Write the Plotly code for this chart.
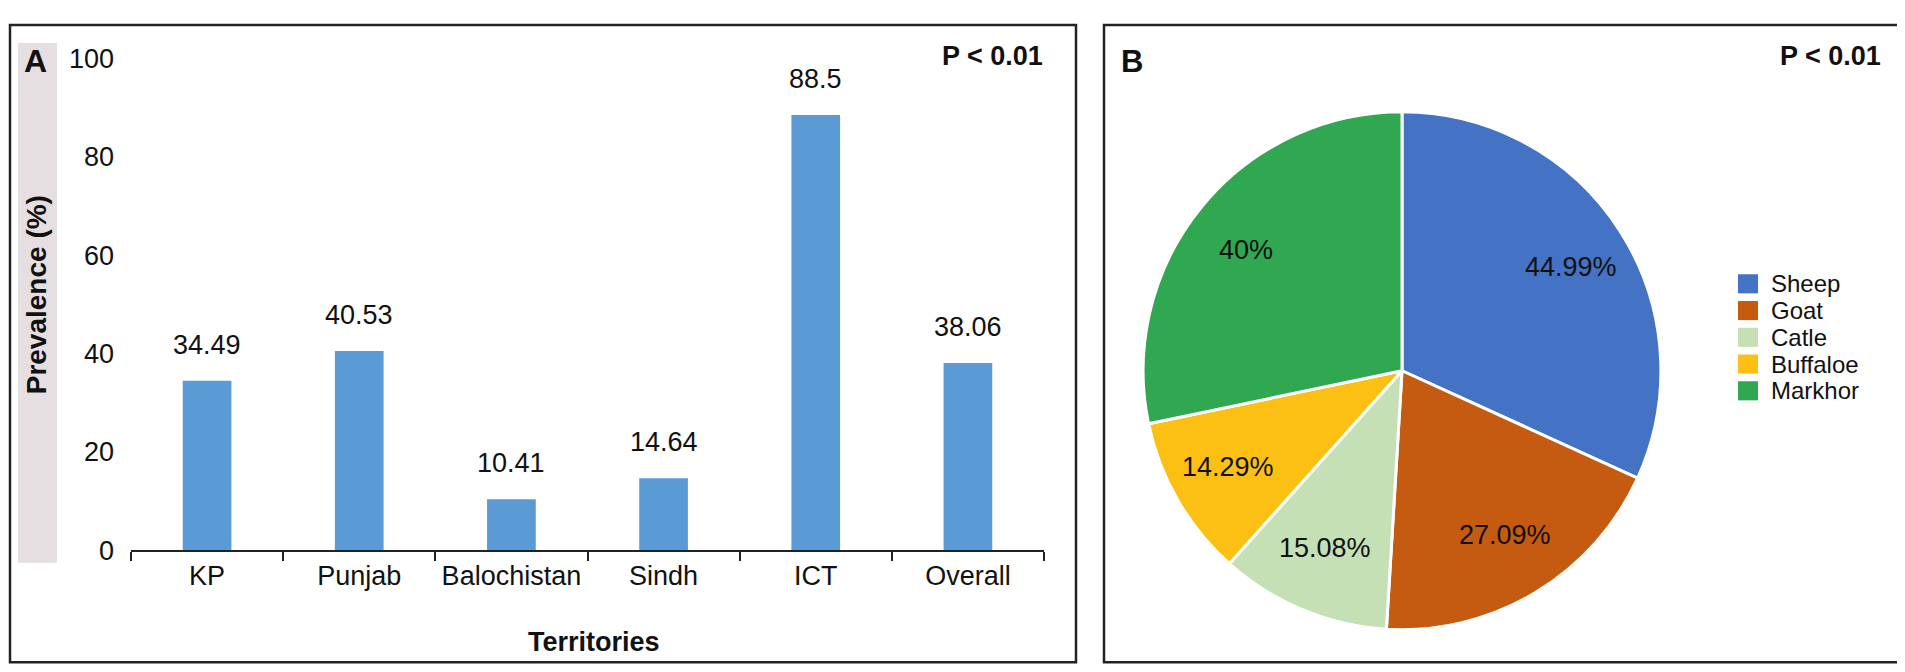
import math
import plotly.graph_objects as go

# panel A data
territories = ['KP', 'Punjab', 'Balochistan', 'Sindh', 'ICT', 'Overall']
prevalence = [34.49, 40.53, 10.41, 14.64, 88.5, 38.06]
y_ticks = [0, 20, 40, 60, 80, 100]

# panel B data
species = ['Sheep', 'Goat', 'Catle', 'Buffaloe', 'Markhor']
species_share = [44.99, 27.09, 15.08, 14.29, 40]
species_colors = ['#4472C4', '#C55A11', '#C5E0B4', '#FCC015', '#2FA851']

W, H = 1905, 672
FONT = 'Arial, Liberation Sans, sans-serif'
INK = '#111111'

# pie placement in pixels
PIE_CX, PIE_CY, PIE_R = 1394, 364, 271


def fx(px):
    return px / W


def fy(py):
    return 1 - py / H


fig = go.Figure()

fig.add_trace(go.Bar(
    x=territories,
    y=prevalence,
    marker=dict(color='#5B9BD5', line=dict(width=0)),
    width=0.32,
    showlegend=False,
    xaxis='x', yaxis='y'
))

fig.add_trace(go.Pie(
    labels=species,
    values=species_share,
    sort=False,
    direction='clockwise',
    rotation=0,
    marker=dict(colors=species_colors, line=dict(color='white', width=3)),
    textinfo='none',
    domain=dict(x=[fx(PIE_CX - PIE_R), fx(PIE_CX + PIE_R)],
                y=[fy(PIE_CY + PIE_R), fy(PIE_CY - PIE_R)]),
    showlegend=False
))

annotations = []
# value labels above bars
for t, v in zip(territories, prevalence):
    annotations.append(dict(
        x=t, y=v, xref='x', yref='y', text=str(v), showarrow=False,
        yanchor='bottom', yshift=19, font=dict(size=27, color=INK, family=FONT)
    ))

# slice labels, placed on the mid angle of each slice like the original (best fit)
total = sum(species_share)
start = 0.0
for v in species_share:
    sweep = 360 * v / total
    mid = math.radians(start + sweep / 2)
    start += sweep
    lx = PIE_CX + 0.74 * PIE_R * math.sin(mid)
    ly = PIE_CY - 0.74 * PIE_R * math.cos(mid)
    annotations.append(dict(
        x=fx(lx), y=fy(ly), xref='paper', yref='paper', text=f'{v}%', showarrow=False,
        xanchor='center', yanchor='middle', font=dict(size=27, color=INK, family=FONT)
    ))

# hand made legend for the pie (square + name per species)
LEG_STEP = 28
LEG_TOP = 329 - 2 * LEG_STEP
for i, name in enumerate(species):
    annotations.append(dict(
        x=fx(1762), y=fy(LEG_TOP + i * LEG_STEP), xref='paper', yref='paper', text=name,
        showarrow=False, xanchor='left', yanchor='middle', borderpad=0,
        font=dict(size=24, color=INK, family=FONT)
    ))

labels = [
    dict(x=fx(27), y=fy(40), text='<b>A</b>', font=dict(size=32)),
    dict(x=fx(1124), y=fy(40), text='<b>B</b>', font=dict(size=31)),
    dict(x=fx(1037), y=fy(35), text='<b>P < 0.01</b>', xanchor='right', font=dict(size=27)),
    dict(x=fx(1875), y=fy(35), text='<b>P < 0.01</b>', xanchor='right', font=dict(size=27)),
    dict(x=fx(586), y=fy(648), text='<b>Territories</b>', font=dict(size=27)),
    dict(x=fx(28), y=fy(285), text='<b>Prevalence (%)</b>', textangle=-90, font=dict(size=28)),
]
for a in labels:
    a.update(xref='paper', yref='paper', showarrow=False, yanchor='middle')
    a.setdefault('xanchor', 'center')
    a['font'].update(color=INK, family=FONT)
annotations += labels

shapes = [
    # grey strip behind the y title
    dict(type='rect', xref='paper', yref='paper', x0=fx(10), x1=fx(49), y0=fy(565), y1=fy(21),
         fillcolor='#E5DFE1', line=dict(width=0), layer='below'),
    # panel frames
    dict(type='rect', xref='paper', yref='paper', x0=fx(2), x1=fx(1068), y0=fy(669), y1=fy(2),
         line=dict(color='#222222', width=2.5)),
    dict(type='rect', xref='paper', yref='paper', x0=fx(1096), x1=fx(1902), y0=fy(669), y1=fy(2),
         line=dict(color='#222222', width=2.5)),
]
for i, col in enumerate(species_colors):
    cy = LEG_TOP + i * LEG_STEP
    shapes.append(dict(type='rect', xref='paper', yref='paper',
                       x0=fx(1730), x1=fx(1750), y0=fy(cy + 10), y1=fy(cy - 10),
                       fillcolor=col, line=dict(width=0)))

fig.update_layout(
    width=W, height=H,
    margin=dict(l=0, r=0, t=0, b=0),
    paper_bgcolor='white', plot_bgcolor='white',
    font=dict(family=FONT, size=27, color=INK),
    xaxis=dict(
        domain=[fx(123), fx(1036)],
        showline=True, linecolor='#222222', linewidth=1.5,
        ticks='outside', tickson='boundaries', ticklen=9, tickcolor='#222222', tickwidth=1.5,
        showgrid=False, tickfont=dict(size=27), anchor='y'
    ),
    yaxis=dict(
        domain=[fy(552), fy(37)],
        range=[0, 100], tickvals=y_ticks,
        showline=False, ticks='', showgrid=False, zeroline=False,
        ticklabelstandoff=16, tickfont=dict(size=27), anchor='x'
    ),
    annotations=annotations,
    shapes=shapes,
)

fig.write_html("out.html")
